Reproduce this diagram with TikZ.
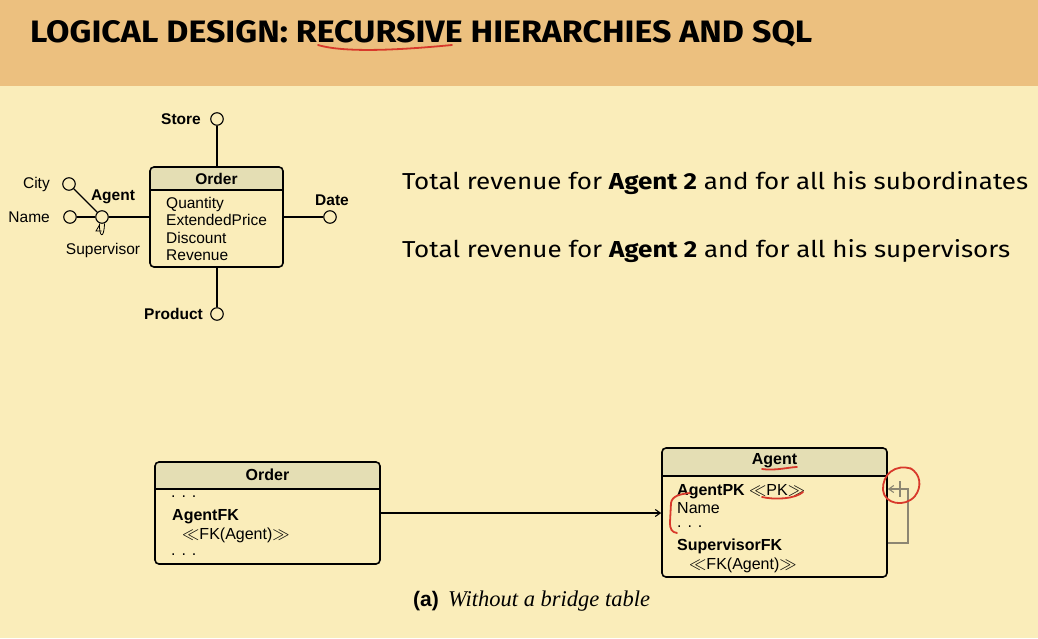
\documentclass[tikz,border=0pt]{standalone}
\usepackage{fontspec}
\usepackage{graphicx}
\setmainfont{Liberation Sans}
\newfontfamily\titlefont{Fira Sans}
\newfontfamily\bodyfont{Fira Sans}
\newfontfamily\serifcap{Liberation Serif}
\usetikzlibrary{arrows.meta}
\definecolor{bgc}{HTML}{FAEDBA}
\definecolor{hdrc}{HTML}{ECC07F}
\definecolor{hfill}{HTML}{E4DEB4}
\definecolor{annred}{HTML}{D8392B}
\definecolor{loopc}{HTML}{8C8672}
\begin{document}
\begin{tikzpicture}[x=1pt,y=-1pt,
  circ/.style={circle, draw, line width=1.1pt, fill=bgc, minimum size=12.5pt, inner sep=0pt},
  conn/.style={line width=1.4pt},
  tbox/.style={draw, line width=1.6pt, rounded corners=4pt, inner sep=0pt},
  lblA/.style={font=\fontsize{15.5}{17}\selectfont, inner sep=0pt},
  lblAb/.style={font=\fontsize{15.5}{17}\selectfont\bfseries, inner sep=0pt},
  lblB/.style={font=\fontsize{16}{18}\selectfont, inner sep=0pt},
  lblBb/.style={font=\fontsize{16}{18}\selectfont\bfseries, inner sep=0pt},
  ann/.style={draw=annred, line width=1.8pt, line cap=round, line join=round},
  arr/.style={line width=1.1pt, -{Straight Barb[length=5pt,width=7pt]}}
]
\useasboundingbox (0,0) rectangle (1038,638);
\fill[bgc] (0,0) rectangle (1038,638);
\fill[hdrc] (0,0) rectangle (1038,86);

% title
\node[anchor=base west, inner sep=0pt] (title) at (30,42)
  {\resizebox{782pt}{22pt}{\titlefont\bfseries LOGICAL DESIGN: RECURSIVE HIERARCHIES AND SQL}};
\draw[ann] (318,45) .. controls (345,53) and (400,50) .. (452,45);

% question lines
\node[anchor=base west, inner sep=0pt] (q1) at (402,189)
  {\resizebox{626pt}{18pt}{\bodyfont Total revenue for \textbf{Agent 2} and for all his subordinates}};
\node[anchor=base west, inner sep=0pt] (q2) at (402,257)
  {\resizebox{608pt}{18pt}{\bodyfont Total revenue for \textbf{Agent 2} and for all his supervisors}};

% ---------- fact schema ----------
\begin{scope}
  \clip[rounded corners=4pt] (150,167) rectangle (283,267);
  \fill[hfill] (150,167) rectangle (283,190);
\end{scope}
\node[tbox, minimum width=133pt, minimum height=100pt] (ord1) at (216.5,217) {};
\draw[line width=1.6pt] (150,190) -- (283,190);
\node[lblAb] (ord1t) at (216.5,179) {Order};
\node[lblA, anchor=base west] (m1) at (166,208) {Quantity};
\node[lblA, anchor=base west] (m2) at (166,225) {ExtendedPrice};
\node[lblA, anchor=base west] (m3) at (166,243) {Discount};
\node[lblA, anchor=base west] (m4) at (166,260) {Revenue};

\node[circ] (store) at (217,119) {};
\node[circ] (product) at (217,314) {};
\node[circ] (date) at (330,217) {};
\node[circ] (agent) at (102,217) {};
\node[circ] (name) at (70,217) {};
\node[circ] (city) at (69,184) {};

\node[lblAb, anchor=east] (storel) at (201,119) {Store};
\node[lblAb, anchor=east] (productl) at (203,314) {Product};
\node[lblAb] (datel) at (332,200) {Date};
\node[lblAb] (agentl) at (113,197) {Agent};
\node[lblA, anchor=east] (namel) at (50,217) {Name};
\node[lblA, anchor=east] (cityl) at (50,184) {City};
\node[lblA] (supl) at (103,250) {Supervisor};

\draw[conn] (store) -- (store |- ord1.north);
\draw[conn] (product) -- (product |- ord1.south);
\draw[conn] (ord1.east) -- (date);
\draw[conn] (agent) -- (ord1.west);
\draw[conn] (name) -- (agent);
\draw[conn] (city) -- (agent);
% recursion mark
\draw[line width=0.8pt] (99.5,223.5) .. controls (99,237) and (104,240) .. (104.5,223.5);
\draw[line width=0.8pt] (99.5,225) -- (96,231) -- (101.5,231);

% ---------- logical schema ----------
\begin{scope}
  \clip[rounded corners=4pt] (155,462) rectangle (380,564);
  \fill[hfill] (155,462) rectangle (380,489);
\end{scope}
\node[tbox, minimum width=225pt, minimum height=102pt] (ord2) at (267.5,513) {};
\draw[line width=1.6pt] (155,489) -- (380,489);
\node[lblBb] (ord2t) at (267.5,475) {Order};
\node[lblB, anchor=base west] (o1) at (171,497) {. . .};
\node[lblBb, anchor=base west] (o2) at (172,520) {AgentFK};
\node[lblB, anchor=base west] (o3) at (182,539) {$\ll$FK(Agent)$\gg$};
\node[lblB, anchor=base west] (o4) at (171,555) {. . .};

\begin{scope}
  \clip[rounded corners=4pt] (662,448) rectangle (887,577);
  \fill[hfill] (662,448) rectangle (887,476);
\end{scope}
\node[tbox, minimum width=225pt, minimum height=129pt] (agt2) at (774.5,512.5) {};
\draw[line width=1.6pt] (662,476) -- (887,476);
\node[lblBb] (agt2t) at (774.5,461) {Agent};
\node[lblB, anchor=base west] (a1) at (677,495) {\textbf{AgentPK} $\ll$PK$\gg$};
\node[lblB, anchor=base west] (a2) at (677,513) {Name};
\node[lblB, anchor=base west] (a3) at (677,527) {. . .};
\node[lblBb, anchor=base west] (a4) at (677,550) {SupervisorFK};
\node[lblB, anchor=base west] (a5) at (689,569) {$\ll$FK(Agent)$\gg$};

\draw[arr] (ord2.east) -- (ord2.east -| agt2.west);

\coordinate (lp1) at (908,543);
\coordinate (lp2) at (908,489);
\draw[draw=loopc, line width=1.1pt, -{Straight Barb[length=5pt,width=7pt]}]
  (agt2.east |- lp1) -- (lp1) -- (lp2) -- (agt2.east |- lp2);
\draw[draw=loopc, line width=1.1pt] (900,481) -- (900,497);

% red annotations
\draw[ann] (762,469) .. controls (775,471) and (790,467) .. (797,467);
\draw[ann] (762,497) .. controls (775,500) and (795,499) .. (803,492);
\draw[ann] (690,493) .. controls (680,494) and (672,496) .. (671,503)
  -- (670,522) .. controls (670,530) and (672,532) .. (677,533);
\draw[ann] (912,469) .. controls (895,463) and (882,475) .. (883,490)
  .. controls (884,504) and (905,508) .. (915,496)
  .. controls (922,487) and (921,474) .. (910,468);

% caption
\node[anchor=base west, inner sep=0pt, font=\fontsize{21}{23}\selectfont\bfseries] (capa) at (413,606) {(a)};
\node[anchor=base west, inner sep=0pt, font=\fontsize{22.5}{24}\selectfont\serifcap\itshape] (capb) at (448,606) {Without a bridge table};
\end{tikzpicture}
\end{document}
